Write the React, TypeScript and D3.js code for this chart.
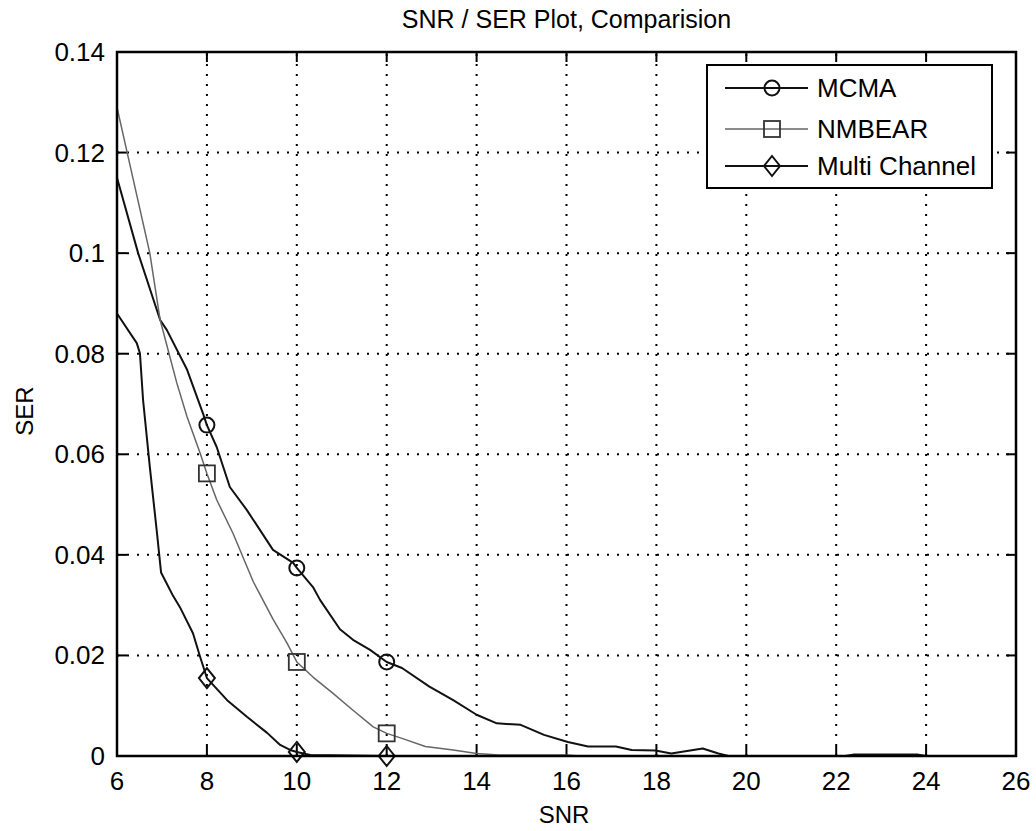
import React from "react";
import * as d3 from "d3";

const xTicks = [6, 8, 10, 12, 14, 16, 18, 20, 22, 24, 26];
const yTicks = [0, 0.02, 0.04, 0.06, 0.08, 0.1, 0.12, 0.14];
const yTickLabels = ["0", "0.02", "0.04", "0.06", "0.08", "0.1", "0.12", "0.14"];
const markerX = [8, 10, 12];

const mcmaX = [6, 6.47, 6.96, 7.11, 7.56, 7.91, 8.0, 8.22, 8.51, 8.89, 9.47, 9.92, 10.0, 10.36, 10.52, 10.96, 11.25, 11.63, 12.0, 12.34, 12.95, 13.48, 14.0, 14.45, 14.98, 15.5, 16.03, 16.48, 17.1, 17.45, 17.98, 18.33, 18.68, 19.03, 19.38, 19.6, 22.2, 22.4, 23.8, 24, 26];
const mcmaY = [0.115, 0.1, 0.0867, 0.0847, 0.0768, 0.0682, 0.0658, 0.0614, 0.0535, 0.0489, 0.041, 0.0384, 0.0374, 0.0336, 0.031, 0.0252, 0.0231, 0.0211, 0.0187, 0.0175, 0.0138, 0.0111, 0.0082, 0.0065, 0.0062, 0.0042, 0.0028, 0.0019, 0.0019, 0.0012, 0.0011, 0.0005, 0.001, 0.0015, 0.0005, 0, 0, 0.0003, 0.0003, 0, 0];

const nmbearX = [6, 6.73, 6.96, 7.33, 7.56, 7.85, 8.0, 8.22, 8.58, 9.03, 9.47, 9.78, 10.0, 10.36, 10.8, 11.25, 11.7, 12.0, 12.34, 12.86, 13.48, 14.0, 14.5, 16, 16.3, 26];
const nmbearY = [0.129, 0.1, 0.0867, 0.0742, 0.0674, 0.0602, 0.0562, 0.0509, 0.0443, 0.0347, 0.0272, 0.0225, 0.0187, 0.0157, 0.0125, 0.0091, 0.0058, 0.0045, 0.0035, 0.0019, 0.0012, 0.0005, 0.0002, 0.0002, 0, 0];

const multiX = [6, 6.44, 6.51, 6.58, 6.73, 6.89, 6.98, 7.25, 7.4, 7.69, 7.85, 8.0, 8.45, 8.89, 9.34, 9.63, 9.85, 10.0, 10.3, 12.0, 26];
const multiY = [0.088, 0.0821, 0.0801, 0.0708, 0.0575, 0.0443, 0.0365, 0.0318, 0.0296, 0.0244, 0.0197, 0.0155, 0.0111, 0.0078, 0.0046, 0.0022, 0.0012, 0.0008, 0.0002, 0, 0];

const seriesNames = ["MCMA", "NMBEAR", "Multi Channel"];

const L = 117, R = 1016, T = 52, B = 756;
const FONT = "'Liberation Sans', Arial, Helvetica, sans-serif";

export default function App() {
  const x = d3.scaleLinear().domain([6, 26]).range([L, R]);
  const y = d3.scaleLinear().domain([0, 0.14]).range([B, T]);
  const line = d3.line<[number, number]>().x((d) => x(d[0])).y((d) => y(d[1]));

  const series = [
    { name: seriesNames[0], xs: mcmaX, ys: mcmaY, color: "#111", width: 2, marker: "circle" },
    { name: seriesNames[1], xs: nmbearX, ys: nmbearY, color: "#666", width: 1.5, marker: "square" },
    { name: seriesNames[2], xs: multiX, ys: multiY, color: "#111", width: 2, marker: "diamond" },
  ];

  const drawMarker = (kind: string, cx: number, cy: number, color: string, key: string) => {
    if (kind === "circle") return <circle key={key} cx={cx} cy={cy} r={7.5} fill="none" stroke={color} strokeWidth={2} />;
    if (kind === "square") return <rect key={key} x={cx - 8} y={cy - 8} width={16} height={16} fill="none" stroke={"#333"} strokeWidth={1.8} />;
    return <path key={key} d={`M${cx},${cy - 10} L${cx + 8},${cy} L${cx},${cy + 10} L${cx - 8},${cy} Z`} fill="none" stroke={color} strokeWidth={2} />;
  };

  const legendRows = [88, 129, 166];

  return (
    <svg width={1036} height={831} style={{ position: "absolute", left: 0, top: 0, background: "#fff" }} fontFamily={FONT}>
      <rect x={0} y={0} width={1036} height={831} fill="#fff" />
      {/* grid */}
      <g stroke="#000" strokeWidth={2} strokeDasharray="2 8">
        {xTicks.slice(1, -1).map((t) => (
          <line key={"gx" + t} x1={x(t)} x2={x(t)} y1={B} y2={T} />
        ))}
        {yTicks.slice(1, -1).map((t) => (
          <line key={"gy" + t} x1={L} x2={R} y1={y(t)} y2={y(t)} />
        ))}
      </g>
      {/* ticks */}
      <g stroke="#000" strokeWidth={2}>
        {xTicks.map((t) => (
          <g key={"tx" + t}>
            <line x1={x(t)} x2={x(t)} y1={B} y2={B - 10} />
            <line x1={x(t)} x2={x(t)} y1={T} y2={T + 10} />
          </g>
        ))}
        {yTicks.map((t) => (
          <g key={"ty" + t}>
            <line x1={L} x2={L + 10} y1={y(t)} y2={y(t)} />
            <line x1={R} x2={R - 10} y1={y(t)} y2={y(t)} />
          </g>
        ))}
      </g>
      {/* series */}
      {series.map((s) => {
        const pts: [number, number][] = s.xs.map((v, i) => [v, s.ys[i]]);
        return (
          <g key={s.name}>
            <path d={line(pts) || ""} fill="none" stroke={s.color} strokeWidth={s.width} strokeLinejoin="round" />
            {pts.filter((p) => markerX.includes(p[0])).map((p, i) => drawMarker(s.marker, x(p[0]), y(p[1]), s.color, s.name + i))}
          </g>
        );
      })}
      {/* axes box */}
      <rect x={L} y={T} width={R - L} height={B - T} fill="none" stroke="#000" strokeWidth={2.5} />
      {/* tick labels */}
      <g fontSize={26} fill="#000">
        {xTicks.map((t) => (
          <text key={"lx" + t} x={x(t)} y={790} textAnchor="middle">{t}</text>
        ))}
        {yTicks.map((t, i) => (
          <text key={"ly" + t} x={105} y={y(t) + 9} textAnchor="end">{yTickLabels[i]}</text>
        ))}
      </g>
      {/* labels */}
      <text x={(L + R) / 2} y={28} textAnchor="middle" fontSize={25}>SNR / SER Plot, Comparision</text>
      <text x={564} y={823} textAnchor="middle" fontSize={24}>SNR</text>
      <text transform="translate(33,411) rotate(-90)" textAnchor="middle" fontSize={24}>SER</text>
      {/* legend */}
      <rect x={707} y={65} width={285} height={123} fill="#fff" stroke="#000" strokeWidth={2} />
      {series.map((s, i) => (
        <g key={"leg" + s.name}>
          <line x1={725} x2={808} y1={legendRows[i]} y2={legendRows[i]} stroke={s.color} strokeWidth={s.width} />
          {drawMarker(s.marker, 772, legendRows[i], s.color, "lm" + i)}
          <text x={817} y={legendRows[i] + 9} fontSize={26}>{s.name}</text>
        </g>
      ))}
    </svg>
  );
}
